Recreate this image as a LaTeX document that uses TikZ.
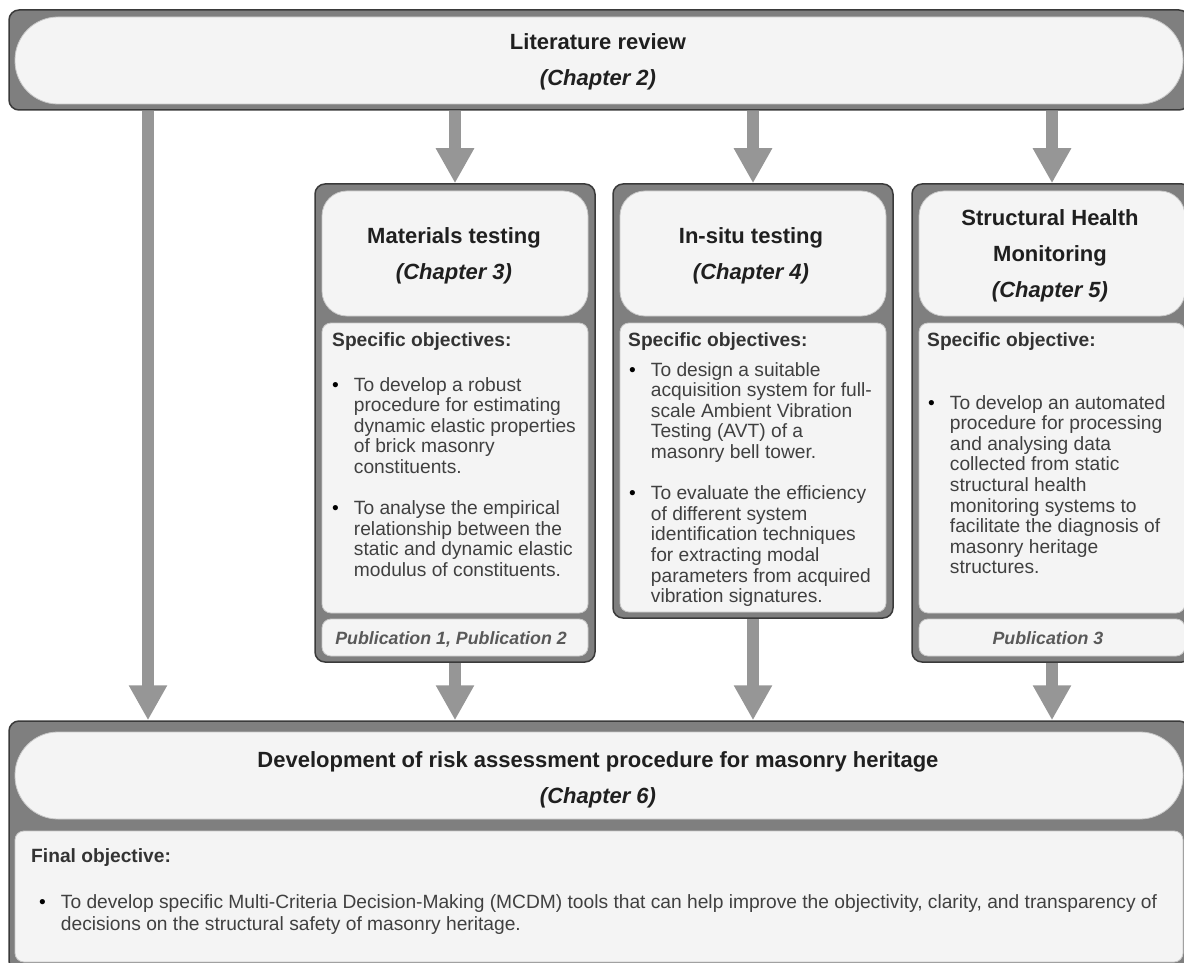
\documentclass[tikz,border=0pt]{standalone}
\usepackage{fontspec}
\setmainfont{Liberation Sans}
\usetikzlibrary{arrows.meta, positioning}
\definecolor{framegray}{HTML}{7F7F7F}
\definecolor{framedark}{HTML}{3A3A3A}
\definecolor{paneback}{HTML}{F4F4F4}
\definecolor{panerim}{HTML}{C8C8C8}
\definecolor{arrowgray}{HTML}{969696}
\definecolor{bodytext}{HTML}{404040}
\tikzset{outer box/.style={draw=framedark,fill=framegray,line width=1.5pt,rounded corners=10pt,inner sep=0pt}}
\tikzset{pill box/.style={draw=panerim,fill=paneback,line width=0.8pt,rounded corners=43pt,inner sep=0pt}}
\tikzset{head box/.style={draw=panerim,fill=paneback,line width=0.8pt,rounded corners=25pt,inner sep=0pt,minimum width=266pt,minimum height=125pt}}
\tikzset{text box/.style={draw=panerim,fill=paneback,line width=0.8pt,rounded corners=9pt,inner sep=0pt}}
\tikzset{flow arrow/.style={draw=arrowgray,line width=12pt,-{Triangle[width=36pt,length=35pt]}}}
\tikzset{title text/.style={font=\fontsize{22}{36}\selectfont\bfseries,text=black!88,align=center,anchor=base,inner sep=0pt}}
\tikzset{obj head/.style={font=\fontsize{19.2}{20.6}\selectfont\bfseries,text=black!80,anchor=base west,inner sep=0pt}}
\tikzset{obj list/.style={font=\fontsize{19.2}{20.6}\selectfont,text=bodytext,anchor=base west,inner sep=0pt}}
\tikzset{pub text/.style={font=\fontsize{17.8}{20}\selectfont\bfseries\itshape,text=black!65,anchor=base,inner sep=0pt}}
\newcommand{\objitem}[1]{\begin{tabular}[t]{@{}l@{\hspace{15pt}}l@{}}\textcolor{black}{\textbullet}&\begin{tabular}[t]{@{}l@{}}#1\end{tabular}\end{tabular}}

\begin{document}
\begin{tikzpicture}[x=1pt,y=-1pt]
    \useasboundingbox (0,0) rectangle (1184,963);
    \clip (0,0) rectangle (1184,963);

    \node[outer box,minimum width=1180pt,minimum height=100pt] (lit) at (599,60) {};
    \node[outer box,minimum width=280pt,minimum height=478pt] (mat) at (455,423) {};
    \node[outer box,minimum width=280pt,minimum height=434pt] (insitu) at (753,401) {};
    \node[outer box,minimum width=280pt,minimum height=478pt] (shm) at (1052,423) {};
    \node[outer box,minimum width=1180pt,minimum height=250pt] (dev) at (599,846) {};

    \coordinate (sidelane) at (148,0);
    \draw[flow arrow] (lit.south -| sidelane) -- (dev.north -| sidelane);
    \draw[flow arrow] (lit.south -| mat.north) -- (mat.north);
    \draw[flow arrow] (lit.south -| insitu.north) -- (insitu.north);
    \draw[flow arrow] (lit.south -| shm.north) -- (shm.north);
    \draw[flow arrow] (mat.south) -- (dev.north -| mat.south);
    \draw[flow arrow] (insitu.south) -- (dev.north -| insitu.south);
    \draw[flow arrow] (shm.south) -- (dev.north -| shm.south);

    % literature review
    \node[pill box,minimum width=1168pt,minimum height=87pt] (lithead) at (599,60.5) {};
    \node[title text] (littitle) at (598,86) {Literature review\\\itshape(Chapter 2)};

    % materials testing
    \node[head box] (mathead) at (455,253.5) {};
    \node[text box,minimum width=266pt,minimum height=290pt] (matbody) at (455,468) {};
    \node[text box,minimum width=266pt,minimum height=37pt] (matpub) at (455,637.5) {};
    \node[title text] (mattitle) at (454,279) {Materials testing\\\itshape(Chapter 3)};
    \node[obj head] (matobj) at (332,346) {Specific objectives:};
    \node[obj list] (matitemA) at (332,391) {\objitem{To develop a robust\\procedure for estimating\\dynamic elastic properties\\of brick masonry\\constituents.}};
    \node[obj list] (matitemB) at (332,514.6) {\objitem{To analyse the empirical\\relationship between the\\static and dynamic elastic\\modulus of constituents.}};
    \node[pub text] (matpubtext) at (451,644) {Publication 1, Publication 2};

    % in-situ testing
    \node[head box] (insituhead) at (753,253.5) {};
    \node[text box,minimum width=266pt,minimum height=289pt] (insitubody) at (753,467.5) {};
    \node[title text] (insitutitle) at (751,279) {In-situ testing\\\itshape(Chapter 4)};
    \node[obj head] (insituobj) at (628,346) {Specific objectives:};
    \node[obj list] (insituitemA) at (629,376) {\objitem{To design a suitable\\acquisition system for full-\\scale Ambient Vibration\\Testing (AVT) of a\\masonry bell tower.}};
    \node[obj list] (insituitemB) at (629,499.6) {\objitem{To evaluate the efficiency\\of different system\\identification techniques\\for extracting modal\\parameters from acquired\\vibration signatures.}};

    % structural health monitoring
    \node[head box] (shmhead) at (1052,253.5) {};
    \node[text box,minimum width=266pt,minimum height=290pt] (shmbody) at (1052,468) {};
    \node[text box,minimum width=266pt,minimum height=37pt] (shmpub) at (1052,637.5) {};
    \node[title text] (shmtitle) at (1050,297) {Structural Health\\Monitoring\\\itshape(Chapter 5)};
    \node[obj head] (shmobj) at (927,346) {Specific objective:};
    \node[obj list] (shmitemA) at (928,409) {\objitem{To develop an automated\\procedure for processing\\and analysing data\\collected from static\\structural health\\monitoring systems to\\facilitate the diagnosis of\\masonry heritage\\structures.}};
    \node[pub text] (shmpubtext) at (1048,644) {Publication 3};

    % risk assessment
    \node[pill box,minimum width=1168pt,minimum height=87pt] (devhead) at (599,775.5) {};
    \node[text box,minimum width=1168pt,minimum height=131pt] (devbody) at (599,896.5) {};
    \node[title text] (devtitle) at (598,803) {Development of risk assessment procedure for masonry heritage\\\itshape(Chapter 6)};
    \node[obj head] (devobj) at (31,862) {Final objective:};
    \node[obj list] (devitem) at (39,908) {\objitem{To develop specific Multi-Criteria Decision-Making (MCDM) tools that can help improve the objectivity, clarity, and transparency of\\[1.5pt]decisions on the structural safety of masonry heritage.}};
\end{tikzpicture}
\end{document}
